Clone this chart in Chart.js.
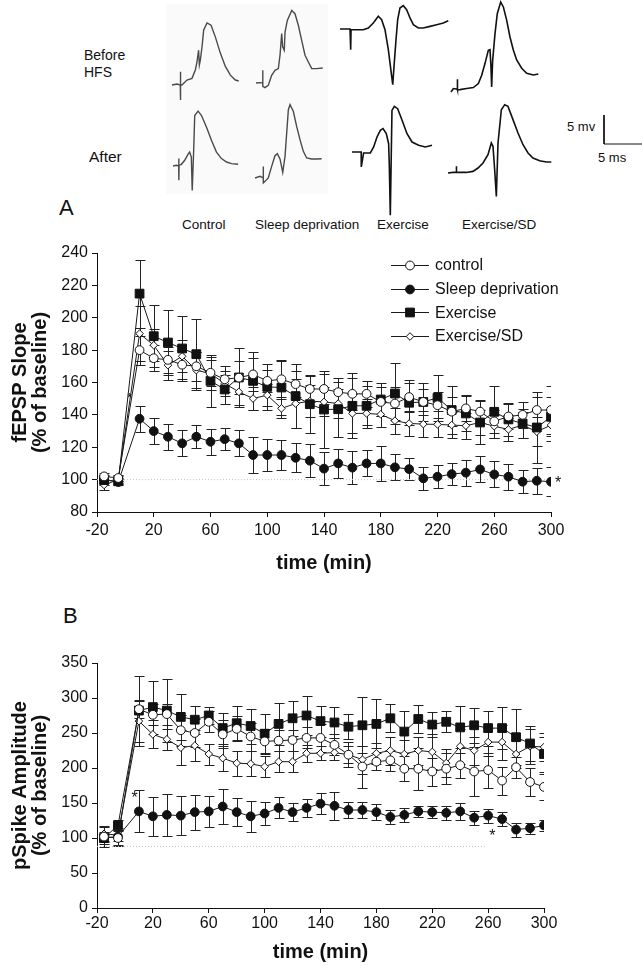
<!DOCTYPE html>
<html>
<head>
<meta charset="utf-8">
<script src="https://cdn.jsdelivr.net/npm/chart.js@4.4.1/dist/chart.umd.min.js"></script>
<style>
  body { margin: 0; background: #fff; overflow: hidden; }
  #page { position: relative; width: 642px; height: 966px; font-family: "Liberation Sans", Arial, sans-serif; color: #111; }
  .lbl { position: absolute; white-space: nowrap; line-height: 1; }
  canvas { position: absolute; }
</style>
</head>
<body>
<div id="page">
  <div style="position:absolute;left:166px;top:4px;width:162px;height:190px;background:#fafafa"></div>
  <div class="lbl" style="left:84px;top:48px;font-size:14px">Before</div>
  <div class="lbl" style="left:84px;top:65px;font-size:14px">HFS</div>
  <div class="lbl" style="left:89px;top:149px;font-size:15.5px">After</div>
  <div class="lbl" style="left:59px;top:197px;font-size:22px">A</div>
  <div class="lbl" style="left:182px;top:218px;font-size:13.5px">Control</div>
  <div class="lbl" style="left:255px;top:218px;font-size:13.5px">Sleep deprivation</div>
  <div class="lbl" style="left:377px;top:218px;font-size:13.5px">Exercise</div>
  <div class="lbl" style="left:462px;top:218px;font-size:13.5px">Exercise/SD</div>
  <div class="lbl" style="left:567px;top:120px;font-size:13px">5 mv</div>
  <div class="lbl" style="left:598px;top:151px;font-size:13px">5 ms</div>
  <div class="lbl" style="left:63px;top:605px;font-size:22px">B</div>
  <canvas id="chartA" width="642" height="360" style="left:0;top:230px"></canvas>
  <canvas id="chartB" width="642" height="376" style="left:0;top:590px"></canvas>
</div>
<script>
// ---- field potential traces (ms, mV) ----
const controlBefore = [[0,0],[0.66,0.17],[1.09,0],[1.1,2.3],[1.12,-2.6],[1.15,0],[1.31,0],[1.97,0.86],[2.63,1.15],[3.07,2.59],[3.29,4.0],[3.5,6.0],[3.6,3.45],[3.73,4.3],[3.95,6.6],[4.17,9.5],[4.61,10.7],[5.14,10.3],[5.7,8.3],[6.36,5.5],[7.02,3.2],[7.68,1.7],[8.34,0.86],[8.78,0.69]];
const controlAfter = [[0,0],[0.45,0.12],[0.75,0],[0.76,1.28],[0.78,-2.45],[0.8,0.1],[1.1,0.29],[1.54,0.98],[1.97,2.0],[2.19,2.4],[2.41,1.55],[2.53,-4.2],[2.72,2.7],[2.86,8.7],[3.3,9.45],[3.75,8.7],[4.41,6.7],[5.07,4.4],[5.72,2.4],[6.38,1.28],[7.04,0.69],[7.7,0.41],[8.57,0.29]];
const sdBefore = [[0,0],[0.53,0.07],[0.88,0],[0.89,2.2],[0.9,-0.57],[1.18,-0.79],[1.62,-0.4],[2.06,1.33],[2.5,2.19],[2.94,2.48],[3.16,4.78],[3.38,8.52],[3.51,6.22],[3.72,5.64],[3.82,8.79],[4.12,10.8],[4.7,12.5],[5.13,11.95],[5.57,9.95],[6.01,7.36],[6.45,4.78],[6.89,3.62],[7.33,2.48],[7.99,2.48],[8.78,2.59]];
const sdAfter = [[0,0],[0.66,0.28],[1.08,0],[1.09,2.0],[1.1,-0.86],[1.32,-0.58],[1.75,0],[2.19,2.0],[2.63,3.84],[2.94,4.19],[3.29,3.28],[3.65,0.97],[3.95,3.73],[4.17,7.76],[4.39,11.78],[4.61,12.64],[5.04,11.5],[5.48,8.9],[5.92,6.62],[6.36,4.6],[6.8,3.45],[7.46,3.28],[8.11,3.28],[8.77,3.33]];
const exBefore = [[0,0],[1.32,0],[1.4,0],[1.41,-3.57],[1.45,-0.12],[1.75,-0.12],[3.06,-0.12],[3.72,0.17],[4.38,1.03],[5.04,2.19],[5.48,1.6],[5.92,-0.12],[6.36,-3.57],[6.8,-8.17],[6.94,-9.6],[7.11,-6.4],[7.37,-1.86],[7.59,1.6],[7.89,3.62],[8.33,4.02],[8.77,3.33],[9.21,1.9],[9.65,0.74],[10.31,0.17],[10.96,0.17],[11.84,0.45],[12.72,0.74],[13.59,1.03],[14.25,1.43]];
const exAfter = [[0,0],[0.87,0],[1.21,0],[1.22,-2.57],[1.53,-0.17],[2.41,-0.17],[2.85,0.86],[3.29,2.59],[3.73,3.74],[4.08,4.02],[4.51,3.16],[4.82,1.43],[4.91,-2.31],[5.04,-10.9],[5.26,7.18],[5.57,7.88],[6.01,7.47],[6.59,5.46],[7.24,3.16],[7.9,1.72],[8.77,1.16],[9.65,0.86],[10.53,1.16]];
const exsdBefore = [[0,0],[0.31,0.59],[0.83,0.5],[0.84,2.2],[0.86,0.4],[1.18,0.41],[2.06,0.59],[2.94,0.76],[3.6,1.45],[4.04,2.88],[4.47,4.9],[4.91,7.2],[5.13,7.3],[5.26,4.3],[5.35,0.86],[5.48,5.46],[5.79,10.06],[6.09,13.5],[6.54,15.5],[6.89,14.66],[7.33,12.36],[7.76,9.48],[8.2,7.24],[8.64,5.52],[9.3,4.09],[9.96,3.22],[10.83,2.93],[11.49,3.1]];
const exsdAfter = [[0,0],[0.66,0.1],[1.1,0.1],[1.11,1.15],[1.12,0.1],[1.54,0.1],[2.41,0.1],[3.29,0.28],[3.95,0.86],[4.61,1.72],[5.26,3.16],[5.7,5.17],[5.92,4.6],[6.14,0.57],[6.36,-4.03],[6.58,5.17],[7.02,10.9],[7.46,11.78],[7.89,11.49],[8.55,9.2],[9.21,6.9],[9.87,4.88],[10.53,3.45],[11.18,2.59],[12.06,2.12],[12.94,1.9],[13.59,1.9]];
const scaleBar = [[0,5],[0,0],[5,0]];

// ---- time course data ----
const times = [-15, -5, 10, 20, 30, 40, 50, 60, 70, 80, 90, 100, 110, 120, 130, 140, 150, 160, 170, 180, 190, 200, 210, 220, 230, 240, 250, 260, 270, 280, 290, 300];
const groups = ['control', 'Sleep deprivation', 'Exercise', 'Exercise/SD'];
const xTicks = [-20, 20, 60, 100, 140, 180, 220, 260, 300];
const yTicksA = [80, 100, 120, 140, 160, 180, 200, 220, 240];
const yTicksB = [0, 50, 100, 150, 200, 250, 300, 350];

// A: fEPSP slope (% of baseline)
const slopeControl = [102, 101, 180, 175, 174, 171, 170, 166, 162, 163, 165, 161, 162, 159, 156, 156, 154, 153, 153, 148, 147, 151, 148, 146, 142, 144, 142, 136, 139, 140, 143, 143];
const slopeControlErr = [2, 2, 9, 8, 8, 9, 9, 8, 8, 10, 10, 7, 11, 8, 8, 9, 9, 10, 8, 9, 10, 9, 8, 8, 9, 8, 7, 7, 8, 8, 8, 15];
const slopeSD = [100, 98.5, 137.6, 130, 126.5, 122.4, 126.5, 123.4, 125, 122.4, 115.2, 115.2, 115.2, 113.5, 111.7, 106.8, 110, 107.4, 110, 110, 107.6, 106.5, 100.8, 101.8, 103.4, 104.3, 106.3, 103.2, 101.8, 98.7, 99.3, 98.7];
const slopeSDErr = [2, 2, 8, 8, 8, 8, 7, 8, 7, 8, 11, 10, 9, 9, 10, 10, 9, 10, 8, 11, 8, 7, 7, 7, 7, 8, 8, 8, 8, 7, 8, 9];
const slopeEx = [99.7, 99, 214.9, 188.6, 184.7, 181, 177.5, 161, 155.7, 163.1, 161, 157.3, 156.9, 151.6, 146.6, 143.3, 143.5, 145.6, 145.6, 149.5, 153.2, 147.5, 148, 150.5, 143, 140.9, 135.3, 141.9, 137.2, 134.7, 132.2, 138.8];
const slopeExErr = [3, 2, 21, 19, 20, 20, 22, 16, 9, 18, 18, 14, 17, 20, 18, 24, 17, 20, 12, 10, 19, 14, 12, 14, 15, 11, 13, 16, 10, 9, 22, 12];
const slopeExSD = [96.7, 100, 190.2, 183, 170.7, 176.2, 167.6, 165.5, 159.4, 154.2, 150.1, 152.2, 144, 147, 148.5, 148, 147, 140.9, 140.9, 140.3, 136.4, 134.7, 134.3, 134.1, 133.7, 133.3, 135.3, 133, 131, 133.7, 129.6, 133.7];
const slopeExSDErr = [3, 2, 17, 10, 9, 10, 11, 10, 8, 8, 7, 7, 6, 15, 10, 9, 9, 12, 9, 8, 8, 8, 8, 8, 8, 8, 8, 7, 7, 8, 9, 10];

// B: pSpike amplitude (% of baseline)
const spikeControl = [102, 100, 284, 276, 277, 254, 250, 266, 248, 256, 245, 238, 239, 240, 243, 243, 233, 219, 202, 209, 211, 199, 199, 195, 199, 204, 195, 197, 182, 201, 180, 173];
const spikeControlErr = [15, 12, 12, 15, 15, 22, 20, 15, 20, 18, 20, 18, 15, 15, 15, 20, 15, 18, 30, 12, 15, 18, 30, 20, 22, 18, 35, 25, 20, 15, 20, 18];
const spikeSD = [100, 102, 138, 131, 133, 132, 137, 138, 145, 137, 131, 135, 143, 137, 143, 149, 146, 140, 140, 137, 130, 133, 138, 137, 136, 138, 129, 132, 127, 112, 114, 118];
const spikeSDErr = [8, 12, 30, 28, 30, 28, 25, 22, 25, 20, 22, 17, 15, 13, 13, 15, 20, 12, 12, 12, 10, 10, 8, 9, 10, 12, 10, 10, 10, 10, 8, 8];
const spikeEx = [100, 118, 282, 287, 282, 273, 269, 275, 257, 264, 260, 249, 263, 271, 275, 267, 265, 259, 261, 263, 271, 252, 270, 262, 266, 258, 261, 257, 257, 244, 235, 220];
const spikeExErr = [5, 8, 50, 38, 45, 33, 20, 12, 22, 24, 25, 28, 30, 25, 28, 22, 22, 18, 40, 35, 20, 30, 20, 18, 15, 30, 25, 25, 30, 40, 25, 25];
const spikeExSD = [106, 104, 267, 248, 241, 229, 232, 220, 214, 207, 206, 202, 209, 209, 221, 221, 222, 219, 212, 221, 225, 220, 225, 223, 207, 231, 225, 237, 237, 220, 231, 230];
const spikeExSDErr = [10, 8, 30, 20, 15, 25, 22, 15, 18, 18, 18, 15, 15, 15, 12, 10, 10, 12, 20, 15, 20, 20, 20, 25, 20, 25, 20, 20, 25, 20, 25, 20];

const baselineA = [[-20, 100], [300, 100]];
const baselineB = [[-20, 88], [258, 88]];
const starsA = [[3, 152, 12], [305, 100, 16]];
const starsB = [[7, 163, 16], [263, 108, 16]];

// ---- styles ----
Chart.defaults.font.family = '"Liberation Sans", Arial, sans-serif';
Chart.defaults.color = '#111';
const INK = '#111';
const markers = [
  { style: 'circle', fill: '#fff', r: 4.4 },
  { style: 'circle', fill: INK, r: 4.4 },
  { style: 'rect', fill: INK, r: 6.2 },
  { style: 'rectRot', fill: '#fff', r: 3.8 },
];
const PX_PER_MS = 7.6, PX_PER_MV = 5.8;
const tracePlacement = [
  [controlBefore, 171.7, 85, '#4a4a4a', 1.4],
  [controlAfter, 173.3, 165.7, '#4a4a4a', 1.4],
  [sdBefore, 256, 82.7, '#4a4a4a', 1.4],
  [sdAfter, 255, 178.3, '#4a4a4a', 1.4],
  [exBefore, 340, 29.3, INK, 1.6],
  [exAfter, 351.7, 151.7, INK, 1.6],
  [exsdBefore, 451, 91.7, INK, 1.6],
  [exsdAfter, 448.3, 173.3, INK, 1.6],
  [scaleBar, 604, 144, INK, 1],
];

const page = document.getElementById('page');

function drawTrace(points, left, base, color, width) {
  const W = 125, H = 170, padL = 5, padT = 95;
  const cv = document.createElement('canvas');
  cv.width = W; cv.height = H;
  cv.style.left = (left - padL) + 'px';
  cv.style.top = (base - padT) + 'px';
  page.appendChild(cv);
  new Chart(cv, {
    type: 'scatter',
    data: { datasets: [{ data: points.map(([x, y]) => ({ x, y })), showLine: true, borderColor: color, borderWidth: width, pointRadius: 0, tension: 0 }] },
    options: {
      responsive: false, animation: false, events: [],
      layout: { padding: 0 },
      plugins: { legend: { display: false }, tooltip: { enabled: false } },
      scales: {
        x: { type: 'linear', display: false, min: -padL / PX_PER_MS, max: (W - padL) / PX_PER_MS },
        y: { type: 'linear', display: false, min: -(H - padT) / PX_PER_MV, max: padT / PX_PER_MV },
      },
    },
  });
}
tracePlacement.forEach(p => drawTrace(...p));

function series(i, vals, errs) {
  const m = markers[i];
  return {
    label: groups[i],
    data: times.map((t, k) => ({ x: t, y: vals[k] })),
    errors: errs,
    borderColor: '#1a1a1a', borderWidth: 1, tension: 0,
    pointStyle: m.style, pointRadius: m.r,
    pointBackgroundColor: m.fill, pointBorderColor: INK, pointBorderWidth: 1,
  };
}
function baseline(pts) {
  return { label: '', data: pts.map(([x, y]) => ({ x, y })), borderColor: '#c4c4c4', borderDash: [1, 2], borderWidth: 1, pointRadius: 0 };
}

function drawMarker(ctx, m, x, y) {
  ctx.beginPath();
  if (m.style === 'circle') ctx.arc(x, y, m.r, 0, Math.PI * 2);
  else if (m.style === 'rect') { const s = m.r * Math.SQRT1_2; ctx.rect(x - s, y - s, 2 * s, 2 * s); }
  else { ctx.moveTo(x, y - m.r); ctx.lineTo(x + m.r, y); ctx.lineTo(x, y + m.r); ctx.lineTo(x - m.r, y); ctx.closePath(); }
  ctx.fillStyle = m.fill; ctx.fill();
  ctx.strokeStyle = INK; ctx.lineWidth = 1; ctx.stroke();
}

const errorBars = {
  id: 'errorBars',
  beforeDatasetsDraw(chart) {
    const { ctx, chartArea: a, scales: { x, y } } = chart;
    ctx.save();
    ctx.beginPath(); ctx.rect(a.left, a.top - 30, a.width, a.height + 30); ctx.clip();
    ctx.strokeStyle = '#222'; ctx.lineWidth = 1;
    chart.data.datasets.forEach(ds => {
      if (!ds.errors) return;
      ds.data.forEach((p, k) => {
        const e = ds.errors[k];
        const px = Math.round(x.getPixelForValue(p.x)) + 0.5;
        const top = Math.round(y.getPixelForValue(p.y + e)) + 0.5;
        const bot = Math.round(y.getPixelForValue(p.y - e)) + 0.5;
        ctx.beginPath();
        ctx.moveTo(px, top); ctx.lineTo(px, bot);
        ctx.moveTo(px - 5, top); ctx.lineTo(px + 5, top);
        ctx.moveTo(px - 5, bot); ctx.lineTo(px + 5, bot);
        ctx.stroke();
      });
    });
    ctx.restore();
  },
};

const stars = {
  id: 'stars',
  afterDraw(chart, args, opts) {
    const { ctx, scales: { x, y } } = chart;
    ctx.save();
    ctx.fillStyle = INK; ctx.textAlign = 'center'; ctx.textBaseline = 'alphabetic';
    (opts.points || []).forEach(([t, v, size]) => {
      ctx.font = size + 'px "Liberation Sans", Arial, sans-serif';
      ctx.fillText('*', x.getPixelForValue(t), y.getPixelForValue(v) + size * 0.55);
    });
    ctx.restore();
  },
};

const legendA = {
  id: 'legendA',
  afterDraw(chart) {
    const ctx = chart.ctx;
    ctx.save();
    ctx.font = '16px "Liberation Sans", Arial, sans-serif';
    ctx.textBaseline = 'middle'; ctx.textAlign = 'left';
    groups.forEach((g, i) => {
      const y = 35 + i * 23.6;
      ctx.beginPath(); ctx.moveTo(391, Math.round(y) + 0.5); ctx.lineTo(429, Math.round(y) + 0.5);
      ctx.strokeStyle = '#1a1a1a'; ctx.lineWidth = 1; ctx.stroke();
      drawMarker(ctx, markers[i], 410, Math.round(y) + 0.5);
      ctx.fillStyle = INK;
      ctx.fillText(g, 435, y + 1);
    });
    ctx.restore();
  },
};

function axes(yTicks, yTitle, tickPadX, boxH) {
  const grid = { display: true, drawOnChartArea: false, drawTicks: true, tickLength: 5, color: INK, lineWidth: 1 };
  return {
    x: {
      type: 'linear', min: -20, max: 300,
      afterBuildTicks: s => { s.ticks = xTicks.map(v => ({ value: v })); },
      afterFit: s => { s.height = boxH; },
      grid, border: { display: true, color: INK, width: 1 },
      ticks: { font: { size: 16 }, color: INK, padding: tickPadX, maxRotation: 0 },
      title: { display: true, text: 'time (min)', font: { size: 20, weight: 'bold', lineHeight: 1.2 }, color: INK, padding: 0 },
    },
    y: {
      type: 'linear', min: yTicks[0], max: yTicks[yTicks.length - 1],
      afterBuildTicks: s => { s.ticks = yTicks.map(v => ({ value: v })); },
      afterFit: s => { s.width = 92; },
      grid, border: { display: true, color: INK, width: 1 },
      ticks: { font: { size: 16 }, color: INK, padding: 4 },
      title: { display: true, text: yTitle, font: { size: 20, weight: 'bold', lineHeight: 1 }, color: INK, padding: { top: 5, bottom: 0 } },
    },
  };
}

new Chart(document.getElementById('chartA'), {
  type: 'line',
  data: {
    datasets: [
      series(0, slopeControl, slopeControlErr),
      series(1, slopeSD, slopeSDErr),
      series(2, slopeEx, slopeExErr),
      series(3, slopeExSD, slopeExSDErr),
      baseline(baselineA),
    ],
  },
  options: {
    responsive: false, animation: false, events: [],
    layout: { padding: { left: 5, right: 91, top: 23, bottom: 15 } },
    plugins: { legend: { display: false }, tooltip: { enabled: false }, stars: { points: starsA } },
    scales: axes(yTicksA, ['fEPSP Slope', '(% of baseline)'], 4, 63),
  },
  plugins: [errorBars, stars, legendA],
});

new Chart(document.getElementById('chartB'), {
  type: 'line',
  data: {
    datasets: [
      series(0, spikeControl, spikeControlErr),
      series(1, spikeSD, spikeSDErr),
      series(2, spikeEx, spikeExErr),
      series(3, spikeExSD, spikeExSDErr),
      baseline(baselineB),
    ],
  },
  options: {
    responsive: false, animation: false, events: [],
    layout: { padding: { left: 5, right: 98, top: 73, bottom: 2 } },
    plugins: { legend: { display: false }, tooltip: { enabled: false }, stars: { points: starsB } },
    scales: axes(yTicksB, ['pSpike Amplitude', '(% of baseline)'], 1, 56),
  },
  plugins: [errorBars, stars],
});
</script>
</body>
</html>
